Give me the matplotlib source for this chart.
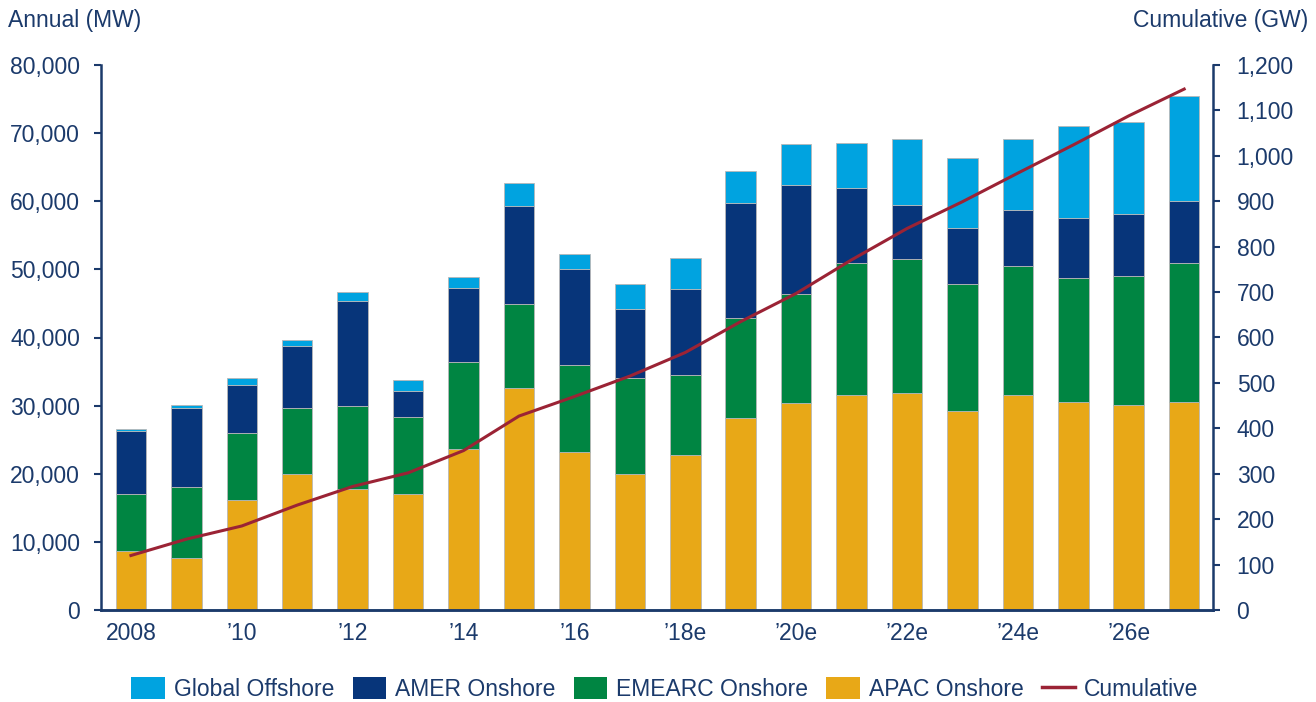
import matplotlib
matplotlib.use("Agg")
import matplotlib.pyplot as plt
from matplotlib.patches import Patch
from matplotlib.lines import Line2D
from matplotlib.ticker import FuncFormatter

years = ["2008", "2009", "2010", "2011", "2012", "2013", "2014", "2015", "2016", "2017",
         "2018e", "2019e", "2020e", "2021e", "2022e", "2023e", "2024e", "2025e", "2026e", "2027e"]
tick_labels = ["2008", "", "\u201910", "", "\u201912", "", "\u201914", "", "\u201916", "",
               "\u201918e", "", "\u201920e", "", "\u201922e", "", "\u201924e", "", "\u201926e", ""]

apac = [8700, 7600, 16200, 19900, 17700, 17100, 23600, 32600, 23200, 19900,
        22800, 28200, 30400, 31600, 31900, 29200, 31600, 30500, 30100, 30500]
emearc = [8300, 10500, 9800, 9800, 12300, 11200, 12800, 12300, 12800, 14200,
          11700, 14600, 16000, 19300, 19600, 18600, 18900, 18200, 19000, 20400]
amer = [9300, 11500, 7000, 9100, 15300, 3900, 10900, 14400, 14100, 10100,
        12600, 16900, 16000, 11100, 8000, 8200, 8200, 8900, 9000, 9100]
offshore = [200, 500, 1000, 800, 1400, 1500, 1600, 3400, 2200, 3700,
            4500, 4800, 6000, 6600, 9700, 10400, 10400, 13400, 13600, 15400]
cumulative = [120, 156, 185, 231, 272, 302, 351, 427, 470, 515,
              567, 635, 697, 771, 840, 899, 962, 1024, 1088, 1147]

c_off = "#00A3E0"
c_amer = "#07357A"
c_emea = "#008542"
c_apac = "#E8A817"
c_line = "#9B2335"
c_text = "#1B3A6B"

plt.rcParams['font.family'] = ['Liberation Sans', 'DejaVu Sans']
FS = 16.5

fig = plt.figure(figsize=(13.16, 7.02), dpi=100)
ax = fig.add_axes([101/1316, 1 - 610/702, (1213-101)/1316, (610-65)/702])
ax2 = ax.twinx()

x = list(range(len(years)))
w = 0.55
ec = "#b8b8b8"
lw = 0.6
b1 = [a for a in apac]
b2 = [a + e for a, e in zip(apac, emearc)]
b3 = [a + e + m for a, e, m in zip(apac, emearc, amer)]
ax.bar(x, apac, w, color=c_apac, edgecolor=ec, linewidth=lw, zorder=2)
ax.bar(x, emearc, w, bottom=b1, color=c_emea, edgecolor=ec, linewidth=lw, zorder=2)
ax.bar(x, amer, w, bottom=b2, color=c_amer, edgecolor=ec, linewidth=lw, zorder=2)
ax.bar(x, offshore, w, bottom=b3, color=c_off, edgecolor=ec, linewidth=lw, zorder=2)

ax2.plot(x, cumulative, color=c_line, linewidth=2.2, zorder=5)

ax.set_xlim(-0.54, 19.52)
ax.set_ylim(0, 80000)
ax2.set_ylim(0, 1200)
ax.set_yticks(range(0, 80001, 10000))
ax2.set_yticks(range(0, 1201, 100))
ax.yaxis.set_major_formatter(FuncFormatter(lambda v, p: f"{int(v):,}"))
ax2.yaxis.set_major_formatter(FuncFormatter(lambda v, p: f"{int(v):,}"))
ax.set_xticks(x)
ax.set_xticklabels(tick_labels)

for a in (ax, ax2):
    a.spines['top'].set_visible(False)
    for s in ('left', 'right', 'bottom'):
        a.spines[s].set_color(c_text)
        a.spines[s].set_linewidth(1.8)
    a.tick_params(axis='y', colors=c_text, labelcolor=c_text, labelsize=FS,
                  length=5, width=1.5, direction='out')
    a.tick_params(axis='x', colors=c_text, labelcolor=c_text, labelsize=FS,
                  length=0, pad=9)
ax.spines['right'].set_visible(False)
ax2.spines['left'].set_visible(False)
ax.tick_params(axis='y', pad=10)
ax2.tick_params(axis='y', pad=12)
ax.set_zorder(ax2.get_zorder() - 1)
ax2.patch.set_visible(False)

fig.text(8/1316, 1 - 20/702, "Annual (MW)", color=c_text, fontsize=FS, va='center', ha='left')
fig.text(1308/1316, 1 - 20/702, "Cumulative (GW)", color=c_text, fontsize=FS, va='center', ha='right')

handles = [Patch(facecolor=c_off, label="Global Offshore"),
           Patch(facecolor=c_amer, label="AMER Onshore"),
           Patch(facecolor=c_emea, label="EMEARC Onshore"),
           Patch(facecolor=c_apac, label="APAC Onshore"),
           Line2D([0], [0], color=c_line, linewidth=2.5, label="Cumulative")]
leg = fig.legend(handles=handles, loc='center', bbox_to_anchor=(665/1316, 1 - 689/702),
                 ncol=5, frameon=False, fontsize=FS, handlelength=1.45, handleheight=1.1,
                 handletextpad=0.4, columnspacing=0.8, labelcolor=c_text)

fig.savefig("out.png", dpi=100)
